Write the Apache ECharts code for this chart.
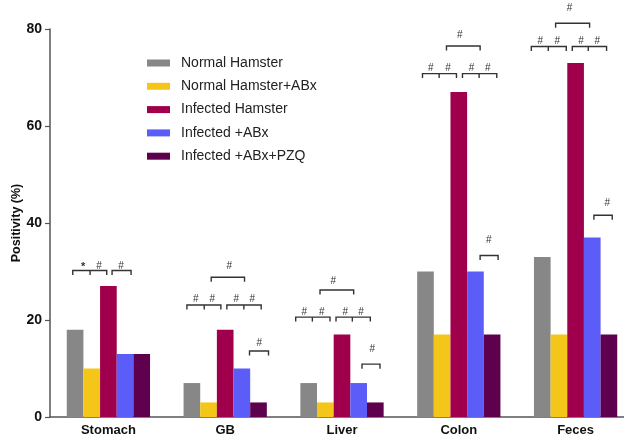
<!DOCTYPE html>
<html>
<head>
<meta charset="utf-8">
<script src="https://cdn.jsdelivr.net/npm/echarts@6/dist/echarts.min.js"></script>
<style>html,body{margin:0;padding:0;background:#fff}#c{width:624px;height:445px}</style>
</head>
<body>
<div id="c"></div>
<script>
const categories = ['Stomach', 'GB', 'Liver', 'Colon', 'Feces'];
const seriesNames = ['Normal Hamster', 'Normal Hamster+ABx', 'Infected Hamster', 'Infected +ABx', 'Infected +ABx+PZQ'];
const normalHamster = [18, 7, 7, 30, 33];
const normalHamsterABx = [10, 3, 3, 17, 17];
const infectedHamster = [27, 18, 17, 67, 73];
const infectedABx = [13, 10, 7, 30, 37];
const infectedABxPZQ = [13, 3, 3, 17, 17];
const yTicks = [0, 20, 40, 60, 80];

// significance brackets: [category index, y value, from slot, to slot, middle slot or null]
const brackets = [
  [0, 30.2, -2.14, -0.1, -1.1], [0, 30.2, 0.22, 1.36, null],
  [1, 23.1, -2.3, -0.26, -1.26], [1, 23.1, 0.1, 2.16, 1.12], [1, 28.8, -0.84, 1.16, null], [1, 13.6, 1.46, 2.6, null],
  [2, 20.6, -2.78, -0.72, -1.78], [2, 20.6, -0.36, 1.7, 0.62], [2, 26.2, -1.32, 0.7, null], [2, 10.9, 1.2, 2.28, null],
  [3, 70.8, -2.18, -0.14, -1.18], [3, 70.8, 0.22, 2.28, 1.22], [3, 76.5, -0.74, 1.28, null], [3, 33.3, 1.28, 2.36, null],
  [4, 76.4, -2.66, -0.56, -1.64], [4, 76.4, -0.2, 1.86, 0.76], [4, 81.2, -1.2, 0.84, null], [4, 41.6, 1.1, 2.2, null]
];
// significance marks: [category index, y value, slot, text]
const marks = [
  [0, 31.0, -1.52, '*'], [0, 31.0, -0.56, '#'], [0, 31.0, 0.76, '#'],
  [1, 24.3, -1.76, '#'], [1, 24.3, -0.78, '#'], [1, 24.3, 0.66, '#'], [1, 24.3, 1.62, '#'], [1, 31.0, 0.24, '#'], [1, 15.2, 2.04, '#'],
  [2, 21.6, -2.26, '#'], [2, 21.6, -1.22, '#'], [2, 21.6, 0.2, '#'], [2, 21.6, 1.14, '#'], [2, 27.9, -0.52, '#'], [2, 14.0, 1.82, '#'],
  [3, 71.9, -1.68, '#'], [3, 71.9, -0.64, '#'], [3, 71.9, 0.76, '#'], [3, 71.9, 1.74, '#'], [3, 78.8, 0.06, '#'], [3, 36.5, 1.8, '#'],
  [4, 77.4, -2.12, '#'], [4, 77.4, -1.1, '#'], [4, 77.4, 0.32, '#'], [4, 77.4, 1.3, '#'], [4, 84.3, -0.36, '#'], [4, 44.1, 1.9, '#']
];

const colors = ['#878787', '#F5C61A', '#A0004B', '#5C5CF8', '#5E004E'];
const values = [normalHamster, normalHamsterABx, infectedHamster, infectedABx, infectedABxPZQ];
const GAP = 0.287;
const FONT = '"Liberation Sans", Arial, sans-serif';

const barSeries = values.map((v, i) => ({
  name: seriesNames[i], type: 'bar', data: v, barGap: '0%', barCategoryGap: (GAP * 100) + '%',
  itemStyle: { color: colors[i] }, emphasis: { disabled: true }
}));

function slotWidth(api) { return api.size([1, 0])[0] * (1 - GAP) / 5; }

const bracketSeries = {
  type: 'custom', silent: true, z: 5,
  data: brackets.map(b => [b[0], b[1]]),
  encode: { x: 0, y: 1 },
  renderItem: function (params, api) {
    const b = brackets[params.dataIndex];
    const c = api.coord([api.value(0), api.value(1)]);
    const w = slotWidth(api);
    const x1 = c[0] + b[2] * w, x2 = c[0] + b[3] * w, y = c[1], t = 4.5;
    const st = { stroke: '#333', lineWidth: 1.4, fill: null };
    const children = [
      { type: 'polyline', shape: { points: [[x1, y + t], [x1, y], [x2, y], [x2, y + t]] }, style: st }
    ];
    if (b[4] !== null) {
      const xm = c[0] + b[4] * w;
      children.push({ type: 'line', shape: { x1: xm, y1: y, x2: xm, y2: y + t }, style: st });
    }
    return { type: 'group', children: children };
  }
};

const markSeries = {
  type: 'custom', silent: true, z: 5,
  data: marks.map(m => [m[0], m[1]]),
  encode: { x: 0, y: 1 },
  renderItem: function (params, api) {
    const m = marks[params.dataIndex];
    const c = api.coord([api.value(0), api.value(1)]);
    const w = slotWidth(api);
    return {
      type: 'text',
      style: {
        text: m[3], x: c[0] + m[2] * w, y: c[1],
        align: 'center', verticalAlign: 'middle',
        font: (m[3] === '*' ? 'bold 11px ' : '10px ') + FONT, fill: '#333'
      }
    };
  }
};

const chart = echarts.init(document.getElementById('c'));
chart.setOption({
  animation: false,
  backgroundColor: '#fff',
  grid: { left: 50, right: -10, top: 29, bottom: 28, containLabel: false, outerBoundsMode: 'none' },
  legend: {
    data: seriesNames, orient: 'vertical', left: 142, top: 51,
    itemWidth: 23, itemHeight: 7, itemGap: 9.3, icon: 'rect',
    selectedMode: false,
    textStyle: { fontSize: 14, fontFamily: FONT, color: '#222', padding: [0, 0, 0, 6] }
  },
  xAxis: {
    type: 'category', data: categories,
    axisLine: { lineStyle: { color: '#555', width: 1.5 } },
    axisTick: { alignWithLabel: true, length: 5, lineStyle: { color: '#555', width: 1.2 } },
    axisLabel: { fontSize: 13, fontWeight: 'bold', fontFamily: FONT, color: '#111', margin: 7 },
    splitLine: { show: false }
  },
  yAxis: {
    type: 'value', min: yTicks[0], max: yTicks[yTicks.length - 1], interval: 20,
    name: 'Positivity (%)', nameLocation: 'middle', nameGap: 27, nameRotate: 90, nameMoveOverlap: false,
    nameTextStyle: { fontSize: 12.5, fontWeight: 'bold', fontFamily: FONT, color: '#111' },
    axisLine: { show: true, lineStyle: { color: '#555', width: 1.5 } },
    axisTick: { show: true, length: 5, lineStyle: { color: '#555', width: 1.2 } },
    axisLabel: { fontSize: 14, fontWeight: 'bold', fontFamily: FONT, color: '#111', margin: 8 },
    splitLine: { show: false }
  },
  series: barSeries.concat([bracketSeries, markSeries])
});
</script>
</body>
</html>
